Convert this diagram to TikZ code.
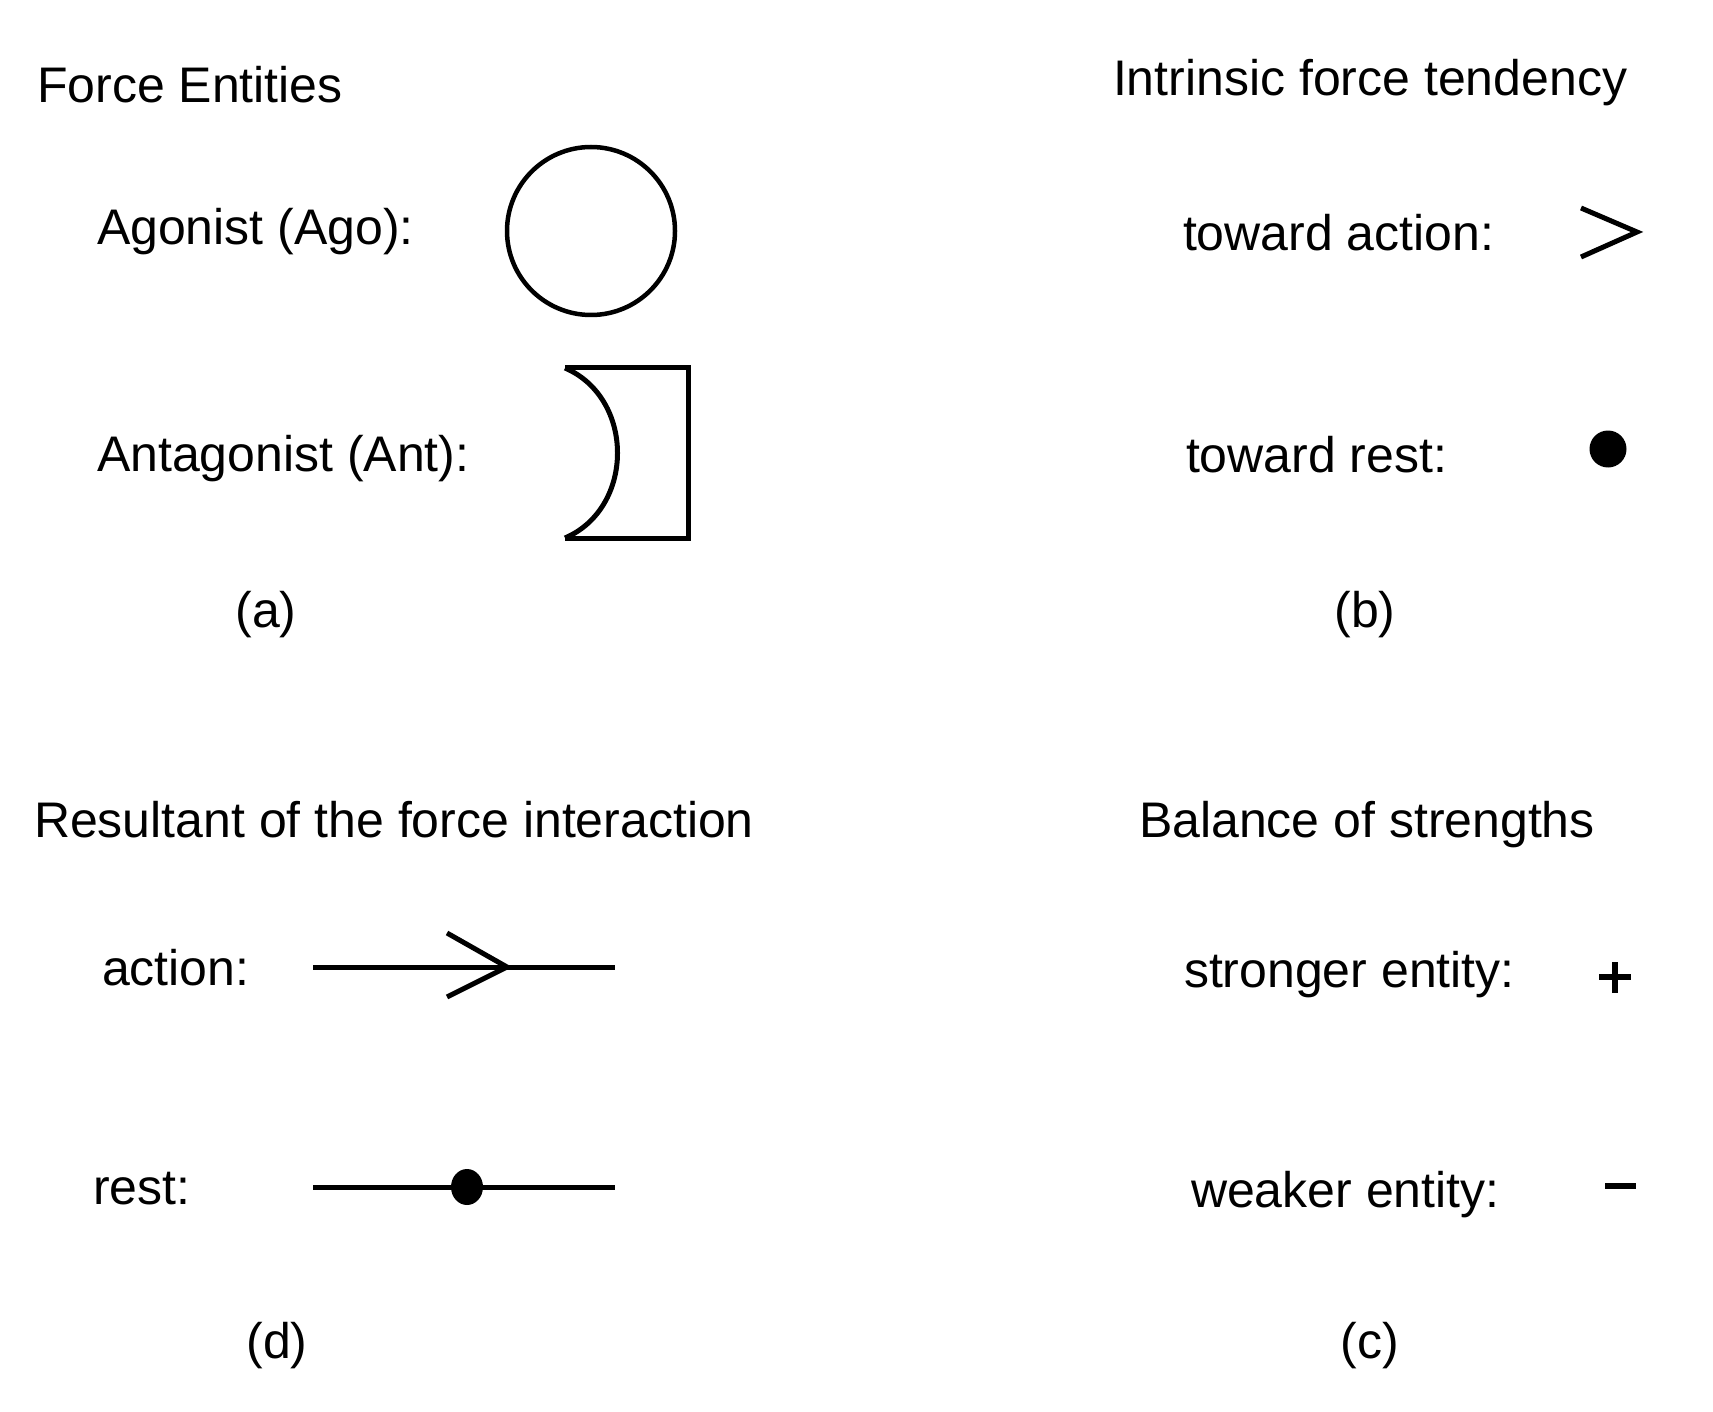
\documentclass[tikz,border=0pt]{standalone}
\usepackage{fontspec}
\setmainfont{Liberation Sans}
\usetikzlibrary{shapes.geometric}
\begin{document}
\begin{tikzpicture}[x=1pt,y=-1pt,
  lbl/.style={inner sep=0pt,outer sep=0pt,anchor=base west,font=\fontsize{50}{60}\selectfont},
  captext/.style={inner sep=0pt,outer sep=0pt,anchor=base,font=\fontsize{50}{60}\selectfont},
  symb/.style={line width=5pt,line join=miter},
  dotfill/.style={fill=black,draw=none}]
\useasboundingbox[fill=white] (0,0) rectangle (1713,1412);
% (a)
\node[lbl] (t1) at (37,103) {Force Entities};
\node[lbl] (ago) at (97,245) {Agonist (Ago):};
\node[lbl] (ant) at (97,471) {Antagonist (Ant):};
\node[captext] (capa) at (266,627) {(a)};
\node[draw,circle,line width=4.5pt,minimum size=168pt,inner sep=0pt] (agocirc) at (591,231) {};
\coordinate (antTL) at (565,368);
\coordinate (antTR) at (688,368);
\coordinate (antBR) at (688,538);
\coordinate (antBL) at (565,538);
\draw[symb] (antTL) -- (antTR) -- (antBR) -- (antBL);
\draw[symb] (antTL) .. controls (635,398) and (635,508) .. (antBL);
% (b)
\node[lbl] (t2) at (1113,96) {Intrinsic force tendency};
\node[lbl] (tact) at (1183,251) {toward action:};
\node[lbl] (trest) at (1186,472) {toward rest:};
\node[captext] (capb) at (1365,627) {(b)};
\coordinate (chU) at (1581,208);
\coordinate (chT) at (1637,232);
\coordinate (chL) at (1581,257);
\draw[symb] (chU) -- (chT) -- (chL);
\node[circle,dotfill,minimum size=37pt,inner sep=0pt] (restdot) at (1608,449) {};
% (d)
\node[lbl] (t3) at (34,837) {Resultant of the force interaction};
\node[lbl] (act) at (102,985) {action:};
\node[lbl] (rst) at (93,1204) {rest:};
\node[captext] (capd) at (277,1358) {(d)};
\coordinate (aL) at (313,967);
\coordinate (aR) at (615,967);
\coordinate (aT) at (507,967);
\coordinate (aU) at (447,933);
\coordinate (aD) at (447,997);
\draw[symb] (aL) -- (aR);
\draw[symb] (aU) -- (aT) -- (aD);
\coordinate (rL) at (313,1187);
\coordinate (rR) at (615,1187);
\draw[symb] (rL) -- (rR);
\node[ellipse,dotfill,minimum width=32pt,minimum height=36pt,inner sep=0pt] (rdot) at (467,1187) {};
% (c)
\node[lbl] (t4) at (1139,837) {Balance of strengths};
\node[lbl] (str) at (1184,987) {stronger entity:};
\node[lbl] (wk) at (1191,1207) {weaker entity:};
\node[captext] (capc) at (1370,1358) {(c)};
\coordinate (pL) at (1599,977);
\coordinate (pR) at (1631,977);
\coordinate (pT) at (1615,962);
\coordinate (pB) at (1615,993);
\draw[line width=6pt] (pL) -- (pR);
\draw[line width=6pt] (pT) -- (pB);
\coordinate (mL) at (1605,1186);
\coordinate (mR) at (1636,1186);
\draw[line width=6pt] (mL) -- (mR);
\end{tikzpicture}
\end{document}
